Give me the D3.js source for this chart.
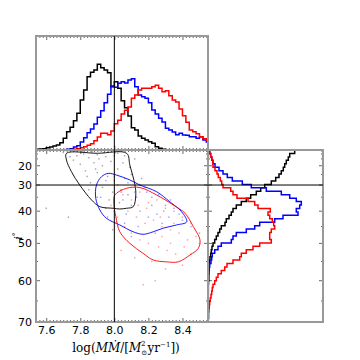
<!DOCTYPE html>
<html><head><meta charset="utf-8">
<script src="https://cdn.jsdelivr.net/npm/d3@7"></script>
<style>body{margin:0;background:#fff}svg{display:block}</style>
</head><body>
<svg id="c" width="360" height="360"></svg>
<script>
// ---------- data ----------
const xTicks = [7.6, 7.8, 8.0, 8.2, 8.4];
const yTicks = [20, 30, 40, 50, 60, 70];
const xDomain = [7.54, 8.55];
const iDomain = [0, 70];
const xRef = 8.0, iRef = 30;

// top histogram (log MMdot), bins start / width
const xBinStart = 7.54, xBinWidth = 0.02;
const topBlack = [0.7,1,1.3,2.3,3,4,5,7.3,11.7,18.3,22.7,29.3,36.7,50,60,73.3,77.7,80,85.7,82.3,80,77.3,63.3,68.3,61.7,49.3,42.3,34,22.3,20,14,11.7,10,8.3,6.7,3.3,1.7,0.7,0,0,0,0,0,0,0,0,0,0,0,0,0];
const topBlue  = [0,0,0,0,0,0,0,0,0,0.7,1.3,3,4.3,8,12.3,17.3,21,26,32.7,39.3,47.3,55.7,64,62.7,66.7,68.3,67,70,71.3,63.3,55,53.3,51.7,47.3,40,36,31.7,28,21.7,20,18,15.3,16.7,15,14.7,13.3,13.3,11.7,13.3,10,8];
const topRed   = [0,0,0,0,0,0,0,0,0,0,0,0.7,1.3,2.3,3.3,4.7,6.3,9.3,13,16.7,16.7,15.3,19,26.3,29.7,36,39.7,43,51.7,55,60,61.7,61.7,61.7,63.3,64.7,61.7,58.3,59.3,54.3,50,48,41,34.3,27.7,20,18.3,16.3,13.3,11.3,9.7];
const topMax = 114;

// right histogram (inclination), bins uniform in cos(i), from cos=1 downward
const cosBinStart = 1.0, cosBinWidth = 0.01316;
const rightBlack = [86.7,81.7,80.3,78.3,76.7,75.3,73.3,71,67.7,63.3,56.7,52.7,48.3,42.7,38.3,33.3,28.3,25,23.3,21,18.3,17,13.3,11.7,10,8.3,6.7,5,4,3.3,2.7,2,1.7,1.3,1,0.8,0.7,0.7,0.5,0.3,0.3,0.3,0.3,0.3,0.2,0,0,0,0,0];
const rightBlue  = [1.7,2.7,3.7,5,7,11,15,19.3,24.3,34.3,43.3,58.3,73.3,81.7,88.3,93.3,91.7,88.3,90,75,66.7,51.7,46.7,38.3,28.3,25,23.3,13.3,10,6.7,4.3,3.7,3,1.7,1.3,1,0.7,0.7,0.3,0.3,0.3,0.3,0,0,0,0,0,0,0,0];
const rightRed   = [1.7,2.7,4,4.7,5,7,9,10.3,12.3,13.7,15,22.7,25,29,40,46.7,50,62.3,60,61.7,64.3,65.7,66.7,63.3,61.7,61.7,63.3,51.7,45,38.3,33.3,31.7,25,19,16.7,13.3,10,8.3,6.7,5,4.3,3.7,3,2.3,1.7,1.3,1,0.7,0.7,0.3];
const rightMax = 115;

// contours [logMMdot, i]
const contourBlack = [[7.719,9.1],[7.9,9.1],[8.072,9.1],[8.091,19.5],[8.121,30],[8.126,34.1],[8.111,38.45],[8.072,39],[8.032,39.25],[7.993,39],[7.915,38.45],[7.866,36],[7.797,30],[7.748,23.5],[7.719,15.9]];
const contourBlue = [[7.895,30],[7.925,26.1],[7.964,24.4],[8.013,25.3],[8.091,27.7],[8.15,30],[8.248,32.8],[8.326,36.7],[8.395,40.2],[8.425,43.5],[8.366,44.5],[8.287,45.5],[8.228,46.6],[8.169,47.35],[8.111,46.6],[8.032,44.5],[7.954,42.4],[7.915,39.6],[7.891,35.4]];
const contourRed = [[8.003,34.1],[8.072,31.4],[8.15,31.1],[8.248,34.1],[8.346,37.85],[8.415,40.7],[8.464,45.05],[8.503,49],[8.493,51.4],[8.444,53.25],[8.375,55.1],[8.307,55.1],[8.228,54.6],[8.169,52.8],[8.091,50],[8.032,46.6],[8.009,41.9],[7.997,37.2]];

// scatter samples [logMMdot, i]
const ptsBlack = [[7.78,12],[7.82,10],[7.85,14],[7.9,11],[7.95,13],[8.0,12],[8.02,9],[7.76,16],[7.8,19],[7.88,18],[7.93,20],[7.98,17],[8.05,18],[7.83,23],[7.9,24],[7.96,26],[8.02,22],[8.06,27],[7.86,29],[7.93,31],[8.0,28],[8.04,32],[7.9,35],[7.97,36],[8.03,37],[8.08,34],[7.95,39],[8.1,25],[7.74,13],[7.7,8],[7.87,7],[8.12,15],[7.6,39],[7.73,42],[8.15,30],[7.99,33],[7.84,26],[7.91,15],[7.81,6],[7.94,8],[8.06,12],[7.89,22],[8.09,21]];
const ptsBlue = [[7.95,28],[8.02,30],[8.08,29],[8.12,33],[8.18,31],[8.22,35],[8.26,34],[8.3,38],[8.35,39],[8.05,36],[8.1,38],[8.15,40],[8.2,42],[8.25,41],[8.0,40],[7.96,42],[8.06,44],[8.14,45],[8.28,44],[8.32,42],[8.38,41],[8.4,43],[7.92,35],[8.0,26],[8.16,27],[8.45,45],[8.1,48],[8.22,38],[7.85,32],[8.04,33],[8.24,47],[8.5,47],[8.33,36],[7.99,46],[8.13,35],[8.19,33],[8.07,41],[8.29,40]];
const ptsRed = [[8.05,34],[8.1,36],[8.15,33],[8.2,37],[8.25,36],[8.3,39],[8.35,40],[8.4,42],[8.45,44],[8.08,40],[8.13,42],[8.18,44],[8.23,43],[8.28,45],[8.33,46],[8.38,47],[8.43,49],[8.48,48],[8.1,47],[8.15,49],[8.2,50],[8.26,51],[8.31,52],[8.36,53],[8.41,51],[8.06,45],[8.04,52],[8.12,54],[8.22,55],[8.3,57],[8.17,61],[8.4,56],[8.5,50],[8.02,42],[8.28,48],[8.19,39],[8.35,44],[8.45,53],[8.24,60],[7.98,38],[8.14,38],[8.27,42],[8.33,50]];

const colors = {black:"#000000", blue:"#0000ff", red:"#ff0000"};

// ---------- layout ----------
const L = 36, R = 208, R2 = 323, T = 36, M = 150, B = 322;
const svg = d3.select("#c");
const rad = Math.PI/180;

const x = d3.scaleLinear().domain(xDomain).range([L, R]);
// y is linear in cos(i)
const yc = d3.scaleLinear().domain([Math.cos(iDomain[0]*rad), Math.cos(iDomain[1]*rad)]).range([M, B]);
const y = i => yc(Math.cos(i*rad));
const hTop = d3.scaleLinear().domain([0, topMax]).range([M, T]);
const hRight = d3.scaleLinear().domain([0, rightMax]).range([R, R2]);

const defs = svg.append("defs");
function clip(id, x0, y0, w, h){ defs.append("clipPath").attr("id", id).append("rect").attr("x",x0).attr("y",y0).attr("width",w).attr("height",h); }
clip("cTop", L, T, R-L, M-T);
clip("cMain", L, M, R-L, B-M);
clip("cRight", R, M, R2-R, B-M);

// ---------- scatter ----------
const gMain = svg.append("g").attr("clip-path","url(#cMain)");
[[ptsBlack,"#555"],[ptsBlue,"#4a4aff"],[ptsRed,"#ff4a4a"]].forEach(([pts,c])=>{
  gMain.selectAll(null).data(pts).enter().append("rect")
    .attr("x", d=>x(d[0])-0.7).attr("y", d=>y(d[1])-0.7)
    .attr("width",1.4).attr("height",1.4).attr("fill",c).attr("opacity",0.55);
});
// contours
const cl = d3.line().x(d=>x(d[0])).y(d=>y(d[1])).curve(d3.curveCatmullRomClosed.alpha(0.5));
[[contourBlack,colors.black],[contourBlue,colors.blue],[contourRed,colors.red]].forEach(([c,col])=>{
  gMain.append("path").attr("d", cl(c)).attr("fill","none").attr("stroke",col).attr("stroke-width",0.9);
});

// ---------- top histogram ----------
const gTop = svg.append("g").attr("clip-path","url(#cTop)");
function topPath(vals){
  const p = [[x(xBinStart), hTop(0)]];
  vals.forEach((v,k)=>{
    const a = xBinStart + k*xBinWidth, b = a + xBinWidth;
    p.push([x(a), hTop(v)], [x(b), hTop(v)]);
  });
  p.push([x(xBinStart + vals.length*xBinWidth), hTop(0)]);
  return d3.line()(p);
}
[[topBlack,colors.black],[topBlue,colors.blue],[topRed,colors.red]].forEach(([v,c])=>{
  gTop.append("path").attr("d", topPath(v)).attr("fill","none").attr("stroke",c).attr("stroke-width",1.5);
});

// ---------- right histogram ----------
const gRight = svg.append("g").attr("clip-path","url(#cRight)");
function rightPath(vals){
  const p = [[hRight(0), yc(cosBinStart)]];
  vals.forEach((v,k)=>{
    const a = cosBinStart - k*cosBinWidth, b = a - cosBinWidth;
    p.push([hRight(v), yc(a)], [hRight(v), yc(b)]);
  });
  p.push([hRight(0), yc(cosBinStart - vals.length*cosBinWidth)]);
  return d3.line()(p);
}
[[rightBlack,colors.black],[rightBlue,colors.blue],[rightRed,colors.red]].forEach(([v,c])=>{
  gRight.append("path").attr("d", rightPath(v)).attr("fill","none").attr("stroke",c).attr("stroke-width",1.5);
});

// ---------- axes / ticks ----------
const minorX = d3.range(7.54, 8.551, 0.02).map(v=>+v.toFixed(2)).filter(v=>!xTicks.some(t=>Math.abs(t-v)<1e-6));
const minorI = d3.range(0, 71, 5).filter(v=>!yTicks.includes(v));
function styleAxis(g){ g.select(".domain").remove(); g.selectAll("line").attr("stroke","#000").attr("stroke-width",0.6); g.selectAll("text").attr("font-family","DejaVu Sans, sans-serif").attr("font-size",11).attr("fill","#000"); }

// main bottom
svg.append("g").attr("transform",`translate(0,${B})`).call(d3.axisBottom(x).tickValues(xTicks).tickFormat(d3.format(".1f")).tickSizeInner(-4).tickSizeOuter(0).tickPadding(4)).call(styleAxis);
svg.append("g").attr("transform",`translate(0,${B})`).call(d3.axisBottom(x).tickValues(minorX).tickFormat("").tickSizeInner(-2).tickSizeOuter(0)).call(styleAxis);
// top-hist top edge (ticks pointing down)
svg.append("g").attr("transform",`translate(0,${T})`).call(d3.axisTop(x).tickValues(xTicks).tickFormat("").tickSizeInner(-4).tickSizeOuter(0)).call(styleAxis);
svg.append("g").attr("transform",`translate(0,${T})`).call(d3.axisTop(x).tickValues(minorX).tickFormat("").tickSizeInner(-2).tickSizeOuter(0)).call(styleAxis);
// shared edge M: ticks up into top hist and down into main
svg.append("g").attr("transform",`translate(0,${M})`).call(d3.axisBottom(x).tickValues(xTicks).tickFormat("").tickSizeInner(-4).tickSizeOuter(0)).call(styleAxis);
svg.append("g").attr("transform",`translate(0,${M})`).call(d3.axisBottom(x).tickValues(minorX).tickFormat("").tickSizeInner(-2).tickSizeOuter(0)).call(styleAxis);
svg.append("g").attr("transform",`translate(0,${M})`).call(d3.axisTop(x).tickValues(xTicks).tickFormat("").tickSizeInner(-4).tickSizeOuter(0)).call(styleAxis);
svg.append("g").attr("transform",`translate(0,${M})`).call(d3.axisTop(x).tickValues(minorX).tickFormat("").tickSizeInner(-2).tickSizeOuter(0)).call(styleAxis);

// y ticks (cos scale)
function yTicksGroup(xpos, dir, vals, len, labels){
  const g = svg.append("g").attr("transform",`translate(${xpos},0)`);
  vals.forEach(v=>{
    g.append("line").attr("x1",0).attr("x2",dir*len).attr("y1",y(v)).attr("y2",y(v)).attr("stroke","#000").attr("stroke-width",0.6);
    if(labels) g.append("text").attr("x",-4).attr("y",y(v)).attr("dy","0.36em").attr("text-anchor","end")
      .attr("font-family","DejaVu Sans, sans-serif").attr("font-size",11).text(v);
  });
}
yTicksGroup(L, 1, yTicks, 4, true);
yTicksGroup(L, 1, minorI, 2, false);
yTicksGroup(R, -1, yTicks, 4, false);
yTicksGroup(R, -1, minorI, 2, false);
yTicksGroup(R, 1, yTicks, 4, false);
yTicksGroup(R, 1, minorI, 2, false);
yTicksGroup(R2, -1, yTicks, 4, false);
yTicksGroup(R2, -1, minorI, 2, false);

// frames
const fc = "#999", fw = 2;
svg.append("rect").attr("x",L).attr("y",T).attr("width",R-L).attr("height",M-T).attr("fill","none").attr("stroke",fc).attr("stroke-width",fw);
svg.append("rect").attr("x",L).attr("y",M).attr("width",R-L).attr("height",B-M).attr("fill","none").attr("stroke",fc).attr("stroke-width",fw);
svg.append("rect").attr("x",R).attr("y",M).attr("width",R2-R).attr("height",B-M).attr("fill","none").attr("stroke",fc).attr("stroke-width",fw);
// reference lines
svg.append("line").attr("x1",x(xRef)).attr("x2",x(xRef)).attr("y1",T).attr("y2",B).attr("stroke","#000").attr("stroke-width",1);
svg.append("line").attr("x1",L).attr("x2",R2).attr("y1",y(iRef)).attr("y2",y(iRef)).attr("stroke","#000").attr("stroke-width",1);

// axis labels
const xl = svg.append("text").attr("x",(L+R)/2+4).attr("y",352).attr("text-anchor","middle")
  .attr("font-family","DejaVu Serif, Liberation Serif, serif").attr("font-size",12);
xl.append("tspan").text("log(");
xl.append("tspan").attr("font-style","italic").text("M\u1E40");
xl.append("tspan").text("/[");
xl.append("tspan").attr("font-style","italic").text("M");
xl.append("tspan").attr("font-size",7).attr("dy",3).text("\u2299");
xl.append("tspan").attr("font-size",7).attr("dy",-9).attr("dx",-6).text("2");
xl.append("tspan").attr("dy",6).attr("dx",2).text("yr");
xl.append("tspan").attr("font-size",7).attr("dy",-5).text("\u22121");
xl.append("tspan").attr("dy",5).text("])");

const yl = svg.append("text").attr("transform",`translate(22,${(M+B)/2}) rotate(-90)`).attr("text-anchor","middle")
  .attr("font-family","DejaVu Serif, Liberation Serif, serif").attr("font-size",11);
yl.append("tspan").attr("font-style","italic").text("i");
yl.append("tspan").attr("font-size",8).attr("dy",-4).text("\u00B0");
</script>
</body></html>
